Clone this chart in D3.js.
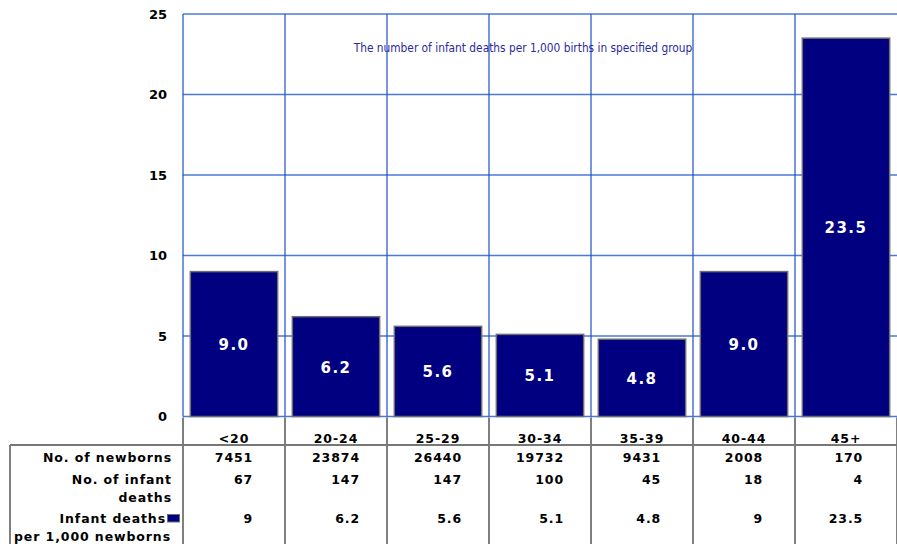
<!DOCTYPE html>
<html><head><meta charset="utf-8">
<script src="https://cdn.jsdelivr.net/npm/d3@7"></script>
<style>body{margin:0;background:#fff}svg{display:block}</style>
</head><body>
<script>
const categories = ["<20","20-24","25-29","30-34","35-39","40-44","45+"];
const rates = [9.0, 6.2, 5.6, 5.1, 4.8, 9.0, 23.5];
const newborns = ["7451","23874","26440","19732","9431","2008","170"];
const deaths = ["67","147","147","100","45","18","4"];
const rateTable = ["9","6.2","5.6","5.1","4.8","9","23.5"];
const yTicks = [0,5,10,15,20,25];
const title = "The number of infant deaths per 1,000 births in specified group";

(function () {
const W = 897, H = 544;
const svg = d3.select("body").append("svg").attr("width", W).attr("height", H);
const pL = 183, pR = 897, pT = 14, pB = 416.5;
const x = d3.scaleBand().domain(categories).range([pL, pR]).paddingInner(0.144).paddingOuter(0.072);
const y = d3.scaleLinear().domain([0, 25]).range([pB, pT]);
const step = x.step();

// horizontal gridlines
svg.append("g").selectAll("line").data(yTicks).join("line")
  .attr("x1", pL).attr("x2", pR).attr("y1", d => y(d)).attr("y2", d => y(d))
  .attr("stroke", "#4a7ad8").attr("stroke-width", 1.3);
// vertical gridlines in plot
const bounds = categories.map((c, i) => pL + i * step);
svg.append("g").selectAll("line").data(bounds).join("line")
  .attr("x1", d => d).attr("x2", d => d).attr("y1", pT).attr("y2", pB)
  .attr("stroke", "#1f4fc4").attr("stroke-width", 1.2);

// title
svg.append("text").attr("x", 523).attr("y", 51.5).attr("text-anchor", "middle")
  .attr("font-family", "DejaVu Sans Condensed, DejaVu Sans, sans-serif").attr("font-size", 11.8)
  .attr("font-stretch", "condensed")
  .attr("fill", "#2a2a9c").text(title);

// bars
svg.append("g").selectAll("rect").data(rates).join("rect")
  .attr("x", (d, i) => x(categories[i])).attr("width", x.bandwidth())
  .attr("y", d => y(d)).attr("height", d => y(0) - y(d))
  .attr("fill", "#000080").attr("stroke", "#6e6e6e").attr("stroke-width", 1.5);

// bar labels
svg.append("g").selectAll("text").data(rates).join("text")
  .attr("x", (d, i) => x(categories[i]) + x.bandwidth() / 2)
  .attr("y", d => (y(d) + y(0)) / 2 + 6)
  .attr("text-anchor", "middle").attr("fill", "#fff")
  .attr("font-family", "DejaVu Sans, Verdana, sans-serif").attr("font-weight", "bold")
  .attr("font-size", 15).attr("letter-spacing", 1.5)
  .text(d => d.toFixed(1));

// y axis labels
const yAxis = d3.axisLeft(y).tickValues(yTicks).tickSize(0).tickPadding(16);
const gy = svg.append("g").attr("transform", `translate(${pL},0)`).call(yAxis);
gy.select(".domain").remove();
gy.selectAll("text").attr("font-family", "DejaVu Sans, Verdana, sans-serif")
  .attr("font-weight", "bold").attr("font-size", 13).attr("fill", "#000");

// table lines
const tg = svg.append("g");
bounds.concat([pR]).forEach(bx => {
  tg.append("line").attr("x1", bx).attr("x2", bx).attr("y1", pB + 1).attr("y2", H)
    .attr("stroke", "#000").attr("stroke-width", 1);
});
tg.append("line").attr("x1", 10).attr("x2", 10).attr("y1", 445).attr("y2", H)
  .attr("stroke", "#000").attr("stroke-width", 1);
tg.append("line").attr("x1", 10).attr("x2", pR).attr("y1", 445).attr("y2", 445)
  .attr("stroke", "#777").attr("stroke-width", 2);

const fontT = t => t.attr("font-family", "DejaVu Sans, Verdana, sans-serif")
  .attr("font-weight", "bold").attr("font-size", 12.5).attr("letter-spacing", 0.9).attr("fill", "#000");

// header categories
const cx = c => x(c) + x.bandwidth() / 2;
categories.forEach(c => {
  fontT(tg.append("text").attr("x", cx(c)).attr("y", 442.5).attr("text-anchor", "middle").text(c));
});

// row values, right aligned per column
const rows = [[newborns, 462], [deaths, 483.5], [rateTable, 522.5]];
categories.forEach((c, i) => {
  const nodes = rows.map(([arr, yy]) => fontT(tg.append("text").attr("y", yy).attr("text-anchor", "end").text(arr[i])));
  let maxW = 0;
  nodes.forEach(n => { maxW = Math.max(maxW, n.node().getComputedTextLength()); });
  nodes.forEach(n => n.attr("x", cx(c) + maxW / 2));
});

// row labels
const labels = [["No. of newborns", 172, 462], ["No. of infant", 172, 483.5], ["deaths", 172, 501.5],
  ["Infant deaths", 166, 522.5], ["per 1,000 newborns", 171, 540.5]];
labels.forEach(([t, lx, ly]) => {
  fontT(tg.append("text").attr("x", lx).attr("y", ly).attr("text-anchor", "end").text(t));
});
// legend key
tg.append("rect").attr("x", 167.5).attr("y", 514.5).attr("width", 12).attr("height", 7.5)
  .attr("fill", "#000080").attr("stroke", "#6e6e6e").attr("stroke-width", 1);
})();
</script>
</body></html>
